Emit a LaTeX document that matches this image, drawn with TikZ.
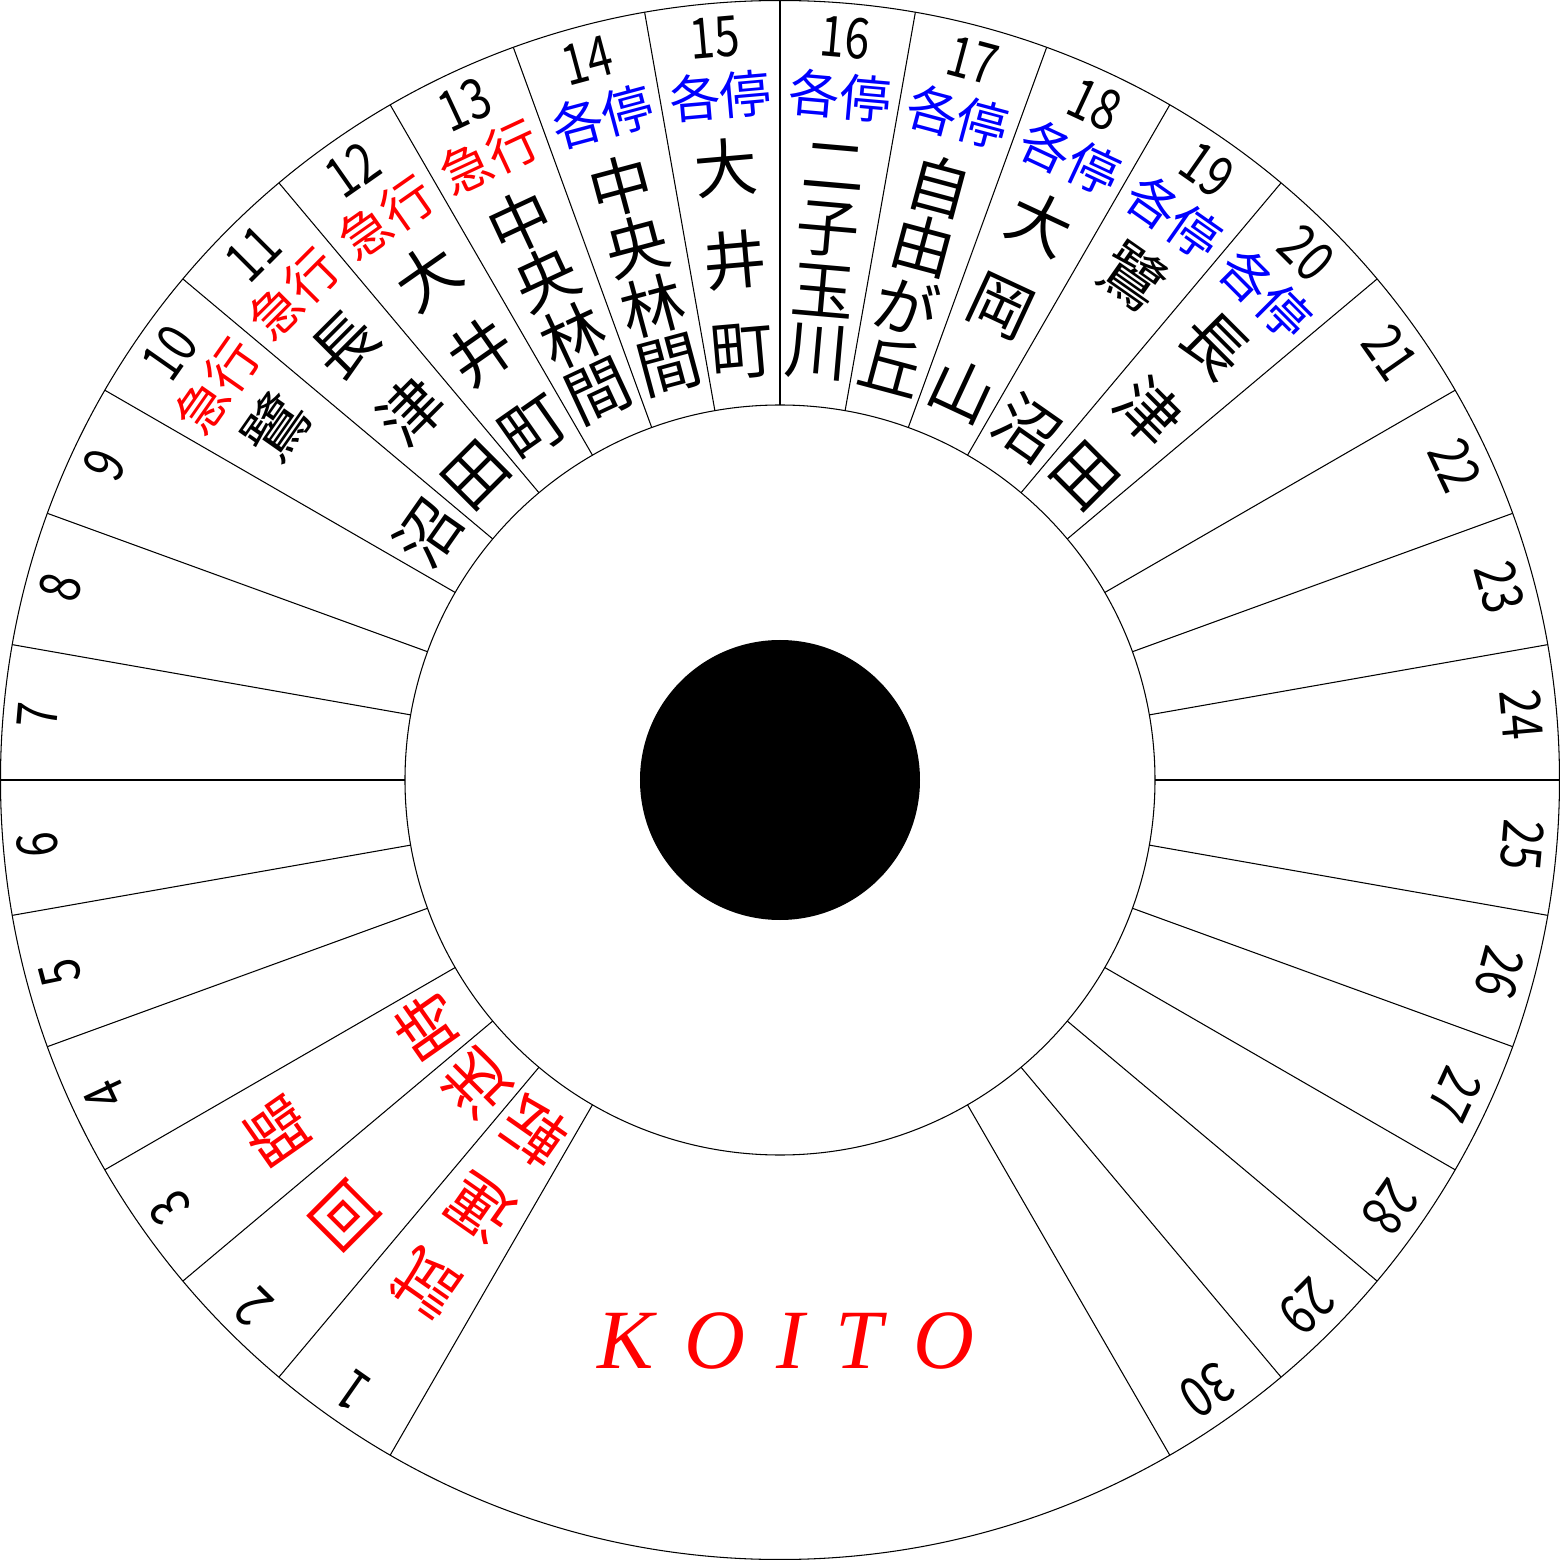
\documentclass[tikz,border=0pt]{standalone}
\usepackage{graphicx}
\usepackage{fontspec}
\newfontfamily\jpfont{Noto Sans CJK JP}
\newfontfamily\romanfont{Liberation Serif}

\begin{document}
\begin{tikzpicture}[x=0.1mm, y=0.1mm, every node/.style={inner sep=0pt},
  numlabel/.style={font=\jpfont\fontsize{16}{17}\selectfont},
  kindlabel/.style={font=\jpfont\fontsize{14.5}{15}\selectfont},
  stationchar/.style={font=\jpfont\fontsize{18}{20}\selectfont},
  thinline/.style={line width=0.3pt}]
  \useasboundingbox (-780,-780) rectangle (780,780);
  % wheel
  \draw[thinline] (0,0) circle (779.5);
  \draw[thinline] (0,0) circle (375);
  \fill (0,0) circle (140);
  % sector lines
  \foreach \a in {240,230,...,-60}
    \draw[thinline] (\a:375) -- (\a:779.5);
  % numbers
  \foreach \k in {1,...,30}
    \node[numlabel, rotate=155-10*\k] (num\k) at ({245-10*\k}:745) {\scalebox{0.8}[1]{\k}};
  % train kinds
  \foreach \k/\kind/\col in {10/急行/red, 11/急行/red, 12/急行/red, 13/急行/red,
      14/各停/blue, 15/各停/blue, 16/各停/blue, 17/各停/blue, 18/各停/blue,
      19/各停/blue, 20/各停/blue}
    \node[kindlabel, text=\col, rotate=155-10*\k] (kind\k) at ({245-10*\k}:687) {\kind};
  % destinations
  \foreach \k/\col/\chars in {
      1/red/{試/615,運/522,転/430}, 2/red/{回/615,送/430}, 3/red/{臨/615,時/430},
      10/black/{鷺/615,沼/430}, 11/black/{長/615,津/522,田/430},
      12/black/{大/615,井/522,町/430}, 13/black/{中/615,央/553,林/491,間/429},
      14/black/{中/615,央/553,林/491,間/429}, 15/black/{大/615,井/522,町/430},
      16/black/{二/615,子/553,玉/491,川/429}, 17/black/{自/615,由/553,が/491,丘/429},
      18/black/{大/615,岡/522,山/430}, 19/black/{鷺/615,沼/430},
      20/black/{長/615,津/522,田/430}}
    \foreach \c/\r [count=\i] in \chars
      \node[stationchar, text=\col, rotate=155-10*\k] (st\k-\i) at ({245-10*\k}:\r) {\c};
  % maker
  \node[font=\romanfont\itshape\fontsize{24}{25}\selectfont, text=red, anchor=base]
    (koito) at (6,-588) {K\hspace{.37em}O\hspace{.37em}I\hspace{.37em}T\hspace{.37em}O};
\end{tikzpicture}
\end{document}
